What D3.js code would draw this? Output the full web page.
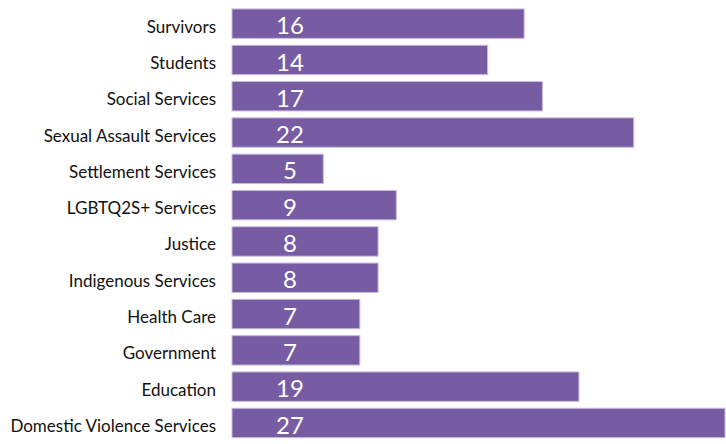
<!DOCTYPE html>
<html>
<head>
<meta charset="utf-8">
<script src="https://cdn.jsdelivr.net/npm/d3@7"></script>
<style>
  body { margin: 0; background: #fff; }
  svg { display: block; }
  .cat { font-family: Lato, "Open Sans", sans-serif; font-size: 17px; fill: #111; }
  .val { font-family: Lato, "Open Sans", sans-serif; font-size: 24px; fill: #fff; }
</style>
</head>
<body>
<div id="chart"></div>
<script>
const categories = [
  "Survivors", "Students", "Social Services", "Sexual Assault Services",
  "Settlement Services", "LGBTQ2S+ Services", "Justice", "Indigenous Services",
  "Health Care", "Government", "Education", "Domestic Violence Services"
];
const counts = [16, 14, 17, 22, 5, 9, 8, 8, 7, 7, 19, 27];

const width = 726, height = 444;
const svg = d3.select("#chart").append("svg")
  .attr("width", width)
  .attr("height", height);

const x = d3.scaleLinear()
  .domain([0, d3.max(counts)])
  .range([232, 725]);

const y = d3.scaleBand()
  .domain(categories)
  .range([5.5, 441.1])
  .paddingInner(0.19)
  .paddingOuter(0.095);

const rows = svg.selectAll("g.row")
  .data(categories.map((c, i) => ({ cat: c, n: counts[i] })))
  .enter().append("g")
  .attr("class", "row");

rows.append("rect")
  .attr("x", x(0))
  .attr("y", d => y(d.cat))
  .attr("width", d => x(d.n) - x(0))
  .attr("height", y.bandwidth())
  .attr("fill", "#775ba3")
  .attr("stroke", "#c8bcdc")
  .attr("stroke-width", 1);

// category names sit a little below the bar centre, as in the source
rows.append("text")
  .attr("class", "cat")
  .attr("x", 216)
  .attr("y", d => y(d.cat) + y.bandwidth() / 2 + 3)
  .attr("dy", "0.35em")
  .attr("text-anchor", "end")
  .text(d => d.cat);

rows.append("text")
  .attr("class", "val")
  .attr("x", x(0) + 58)
  .attr("y", d => y(d.cat) + y.bandwidth() / 2 + 2)
  .attr("dy", "0.36em")
  .attr("text-anchor", "middle")
  .text(d => d.n);
</script>
</body>
</html>
